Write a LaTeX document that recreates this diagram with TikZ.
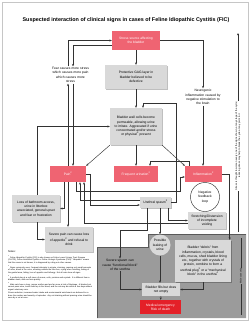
\documentclass[tikz,border=0pt]{standalone}
\usepackage{fontspec}
\setmainfont{Liberation Sans}
\usetikzlibrary{arrows.meta,shadows}
\definecolor{fcred}{RGB}{239,100,114}
\definecolor{emred}{RGB}{228,32,40}
\definecolor{boxgray}{RGB}{217,217,217}
\definecolor{zonegray}{RGB}{155,155,155}
\definecolor{linec}{RGB}{50,50,50}
\begin{document}
\begin{tikzpicture}[x=1pt,y=-1pt,
  every node/.style={font=\fontsize{3.3}{4.3}\selectfont, inner sep=0.8pt, align=center},
  redbox/.style={fill=fcred, text=white},
  graybox/.style={fill=boxgray, drop shadow={shadow xshift=0.6pt, shadow yshift=-0.6pt, fill=black, opacity=0.25}},
  plaintext/.style={fill=none},
  arr/.style={draw=linec, line width=0.45pt, -{Stealth[length=2.4pt,width=2pt]}},
  tinytext/.style={font=\fontsize{2}{2.75}\selectfont, align=left, text width=84pt, inner sep=0pt},
  vlabel/.style={font=\fontsize{2.4}{3}\selectfont, rotate=90}
]
\useasboundingbox (0,0) rectangle (250,324);
\fill[white] (0,0) rectangle (250,324);
\draw[gray!45, line width=0.6pt] (2,2) rectangle (248,320);

% male-only zone
\fill[zonegray] (97,247) -- (148,247) -- (148,234) -- (246,234) -- (246,318) -- (97,318) -- cycle;
\draw[gray!70!black, line width=0.5pt] (97,318) -- (97,247) -- (148,247) -- (148,234) -- (246,234);

% title
\node[font=\fontsize{5.4}{6.5}\selectfont\bfseries] (title) at (126,20) {Suspected interaction of clinical signs in cases of Feline Idiopathic Cystitis (FIC)};

% nodes
\node[redbox, minimum width=48, minimum height=19] (stress) at (136,40.5) {Stress source affecting\\the bladder};
\node[plaintext, text width=42pt] (fear) at (70.5,75) {Fear causes more stress\\which causes more pain\\which causes more\\stress};
\node[graybox, minimum width=62, minimum height=24] (gag) at (136,77) {Protective GAG layer in\\bladder believed to be\\defective};
\node[plaintext, text width=44pt] (neuro) at (203,97) {Neurogenic\\inflammation caused by\\negative stimulation to\\the brain};
\node[graybox, minimum width=52, minimum height=37] (bladder) at (136,126.5) {Bladder wall cells become\\permeable, allowing urine\\to irritate. Aggravated if urine\\concentrated and/or stress\\or physical\textsuperscript{3} present};
\node[redbox, minimum width=36, minimum height=16] (pain) at (68,174) {Pain\textsuperscript{2}};
\node[redbox, minimum width=44, minimum height=16] (freq) at (136,174) {Frequent urination\textsuperscript{2}};
\node[redbox, minimum width=37, minimum height=16] (infl) at (203.5,174) {Inflammation\textsuperscript{2}};
\node[circle, draw=linec, line width=0.45pt, fill=white, minimum size=29, inner sep=0pt] (loop) at (205,197) {Negative\\feedback\\loop};
\node[graybox, minimum width=31, minimum height=11] (urethral) at (155.5,202.5) {Urethral spasm\textsuperscript{2}};
\node[graybox, minimum width=38, minimum height=17] (spasm) at (207,220.5) {Stretching/Distension\\of incomplete\\voiding};
\node[circle, fill=boxgray, minimum size=21, inner sep=0pt] (leak) at (160,245) {Possible\\leaking of\\urine};
\node[graybox, minimum width=48, minimum height=27] (loss) at (36,208.5) {Loss of bathroom access,\\urine in litterbox\\associated, general upset\\and fear or frustration};
\node[graybox, minimum width=48, minimum height=25] (sevpain) at (69,239.5) {Severe pain can cause loss\\of appetite\textsuperscript{2} and refusal to\\drink};
\node[plaintext, text width=42pt] (sspasm) at (120,265) {Severe spasm can\\cause ``functional block''\\of the urethra};
\node[graybox, minimum width=56, minimum height=42] (debris) at (203,261) {Bladder ``debris'' from\\inflammation, crystals, blood\\cells, mucus, shed bladder lining\\etc., together with crystals of\\protein, combine to form a\\urethral plug\textsuperscript{3} or a ``mechanical\\block'' in the urethra\textsuperscript{4}};
\node[fill=boxgray, minimum width=38, minimum height=13] (fills) at (161,289.5) {Bladder fills but does\\not empty};
\node[fill=emred, text=white, minimum width=41, minimum height=14] (emerg) at (160.5,307) {Medical emergency\\Risk of death};

% notes
\node[tinytext, anchor=north west] (notes) at (8,251) {{\fontsize{2.6}{3.2}\selectfont Notes:}\\[1.2pt]
\textsuperscript{1} Feline Idiopathic Cystitis (FIC) is also known as Feline Lower Urinary Tract Disease (FLUTD), Feline Interstitial Cystitis or Feline Urologic Syndrome (FUS). ``Idiopathic'' means that the cause is not known; it is diagnosed by ruling out other causes.\\
\textsuperscript{2} Signs commonly seen: frequent attempts to urinate, straining, passing only small amounts of urine, blood in the urine, urinating outside the litter box, crying when urinating, licking of the genital area, hiding, loss of appetite and lethargy. Not all cats show all signs.\\
\textsuperscript{3} A urethral plug is a soft mass of mucus, cells, proteins and crystals. It is different from a bladder stone, and can form quickly.\\
\textsuperscript{4} Male cats have a long, narrow urethra and are far more at risk of blockage. A blocked cat cannot pass urine, toxins build up in the blood, and the cat may die within a few days without urgent veterinary care.\\
Stress reduction, increased water intake and environmental enrichment are believed to reduce the number and severity of episodes. Any cat straining without passing urine should be seen by a vet at once.};

% right-hand labels
\coordinate (rb) at (238,232);
\coordinate (rt) at (238,33);
\draw[arr] (rb) -- (rt);
\node[vlabel, fill=white, inner sep=0.6pt] (stressnote) at (238,146) {Stress is thought to worsen every one of the signs shown, at any stage of the cycle;\\reducing stress may help to break the cycle at any point in it};
\draw[linec, line width=0.45pt] (241,238) -- (241,315);
\node[vlabel, fill=zonegray, inner sep=0.8pt] (male) at (241,276) {Male cats only};

% connectors
\draw[arr] (stress) -- (gag);
\draw[arr] (stress.east) -| (neuro.north);
\draw[arr] ([xshift=-2.5pt]fear.north) |- (stress.west);
\draw[arr] ([yshift=-4.5pt]stress.west) -| ([xshift=2.5pt]fear.north);
\draw[arr] ([xshift=2.5pt]fear.south) -- ([xshift=2.5pt]fear.south |- pain.north);
\draw[arr] (pain.north) -- (pain.north |- fear.south);
\draw[arr] (gag) -- (bladder);
\draw[arr] ([xshift=1pt]loss.north) |- (bladder.west);
\draw[arr] (bladder.south west) -- (pain.north east);
\draw[arr] (bladder.south) -- (freq.north);
\draw[arr] (bladder.south east) -- (infl.north west);
\draw[arr] (neuro.south) -- (neuro.south |- infl.north);
\draw[arr] (infl.east) -| ([xshift=-1.5pt]debris.north east);
\draw[arr] (pain.south) -- (pain.south |- sevpain.north);
\draw[arr] ([xshift=-4pt]pain.south) |- (loss.east);
\draw[arr] ([xshift=1pt]loss.south) |- (sevpain.west);
\draw[arr] ([yshift=2pt]urethral.west) -| ([xshift=12pt]pain.south);
\draw[arr] (pain.east) -- ++(4,0) |- ([yshift=-2.5pt]urethral.west);
\coordinate (bundleA) at (180,191);
\draw[arr] ([xshift=8pt]pain.south) |- (bundleA) |- ([yshift=-3pt]infl.west);
\coordinate (loopTR) at (176,103);
\draw[arr] (urethral.east) -| (loopTR) -| ([xshift=7pt]bladder.north);
\coordinate (fq) at (150,161);
\draw[arr] ([xshift=4pt]infl.north west) |- (fq) -- (fq |- freq.north);
\draw[arr] ([xshift=4.5pt]urethral.south) -- (leak.north);
\draw[arr] ([xshift=-3pt]urethral.south east) |- (spasm.west);
\draw[arr] ([yshift=-2.5pt]spasm.west) -| ([xshift=16pt]pain.south);
\coordinate (ssp) at (147,230);
\draw[arr] ([xshift=-8.5pt]urethral.south) |- (ssp) -| (sspasm.north);
\draw[arr] (sspasm.south) |- (fills.west);
\draw[arr] (leak.south) -- (leak.south |- fills.north);
\draw[arr] (debris.south) |- (fills.east);
\draw[arr] (fills) -- (emerg);
\end{tikzpicture}
\end{document}
